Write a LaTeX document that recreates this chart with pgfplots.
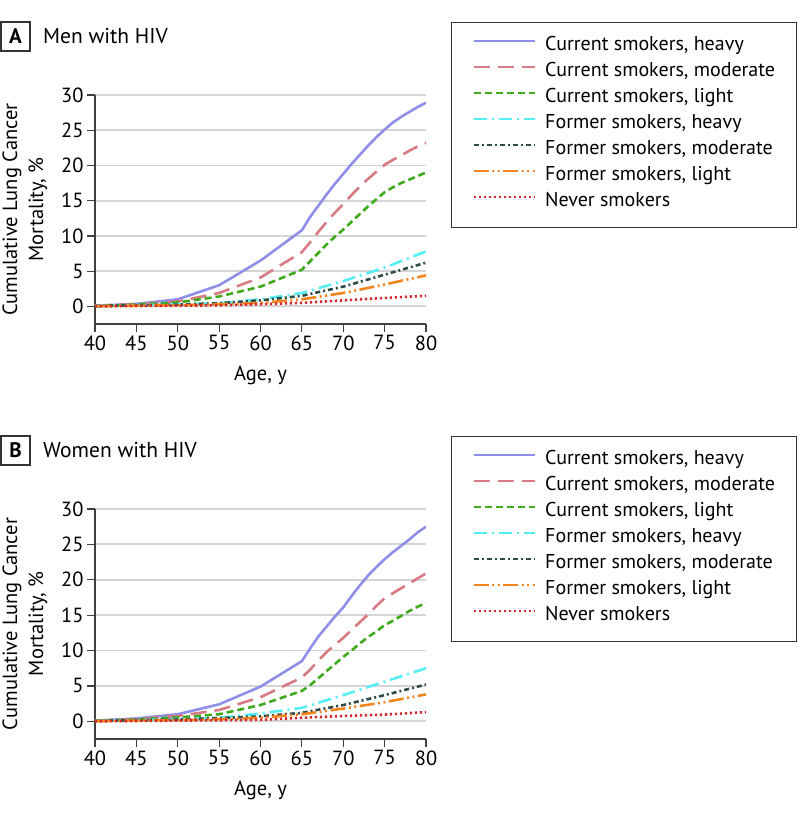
\documentclass[border=0pt]{standalone}
\usepackage{fontspec}
\setmainfont{PT Sans}
\usepackage{pgfplots}
\usepackage{pgfplotstable}
\pgfplotsset{compat=1.18}

\definecolor{cHeavy}{RGB}{143,143,234}
\definecolor{cMod}{RGB}{216,122,132}
\definecolor{cLight}{RGB}{62,170,28}
\definecolor{cFH}{RGB}{85,238,242}
\definecolor{cFM}{RGB}{45,75,75}
\definecolor{cFL}{RGB}{244,132,30}
\definecolor{cNS}{RGB}{215,38,42}

% men, current smokers (yearly after 65)
\pgfplotstableread{
age csh  csm  csl
40  0.1  0.1  0.05
45  0.35 0.3  0.25
50  1.0  0.7  0.55
55  3.0  1.9  1.4
60  6.5  4.1  2.8
65  10.8 7.7  5.2
66  12.7 9.1  6.4
67  14.3 10.6 7.6
68  15.9 12.0 8.8
69  17.4 13.3 9.9
70  18.8 14.5 10.9
71  20.2 15.8 12.0
72  21.5 17.0 13.1
73  22.8 18.1 14.2
74  24.0 19.1 15.2
75  25.1 20.1 16.2
76  26.1 20.8 16.9
77  26.9 21.4 17.5
78  27.6 22.1 18.0
79  28.3 22.7 18.5
80  28.9 23.2 19.0
}\menCur
% men, former and never smokers
\pgfplotstableread{
age fsh  fsm  fsl  ns
40  0.05 0.05 0.03 0.0
45  0.15 0.15 0.1  0.05
50  0.3  0.25 0.15 0.1
55  0.45 0.45 0.3  0.15
60  1.0  0.85 0.5  0.3
65  1.9  1.5  1.0  0.5
70  3.6  2.8  1.9  0.85
75  5.5  4.5  3.1  1.2
80  7.8  6.2  4.4  1.5
}\menFor
% women, current smokers
\pgfplotstableread{
age csh  csm  csl
40  0.1  0.1  0.05
45  0.4  0.3  0.25
50  1.0  0.75 0.55
55  2.4  1.6  1.0
60  4.9  3.4  2.3
65  8.5  6.2  4.3
66  10.3 7.3  5.1
67  12.0 8.6  6.1
68  13.4 9.8  7.1
69  14.8 10.8 8.1
70  16.1 11.8 9.1
71  17.7 12.9 10.0
72  19.2 14.0 11.0
73  20.6 15.1 11.9
74  21.8 16.3 12.7
75  22.9 17.4 13.6
76  23.9 18.1 14.2
77  24.8 18.8 14.9
78  25.7 19.5 15.6
79  26.7 20.2 16.2
80  27.5 20.9 16.7
}\womCur
% women, former and never smokers
\pgfplotstableread{
age fsh  fsm  fsl  ns
40  0.05 0.05 0.03 0.0
45  0.15 0.15 0.1  0.05
50  0.3  0.25 0.15 0.1
55  0.5  0.45 0.3  0.15
60  1.1  0.7  0.5  0.2
65  1.9  1.2  1.0  0.5
70  3.7  2.3  1.8  0.75
75  5.6  3.7  2.7  0.95
80  7.5  5.2  3.8  1.3
}\womFor

\pgfplotsset{
  panel/.style={
    scale only axis, width=331pt, height=229pt,
    xmin=40, xmax=80, ymin=-2.5, ymax=30,
    xtick={40,45,...,80}, ytick={0,5,...,30},
    axis x line*=bottom, axis y line*=left,
    axis line style={line width=1.2pt, color=black!75},
    major tick style={line width=1.2pt, color=black!75},
    tick align=outside, major tick length=8pt,
    ymajorgrids, major grid style={line width=1.8pt, color=black!17},
    /pgf/number format/assume math mode=true,
    ticklabel style={font=\fontsize{20.5}{24}\selectfont},
    label style={font=\fontsize{20.5}{26}\selectfont},
    xlabel={Age, y},
    xlabel style={at={(axis description cs:0.5,-0.225)}, anchor=center},
    ylabel={Cumulative Lung Cancer\\Mortality, \%},
    ylabel style={align=center, at={(axis description cs:-0.2115,0.5)}, anchor=center},
    legend cell align=left,
    legend style={anchor=north west, draw=black!80, line width=1.2pt,
      inner xsep=21pt, inner ysep=11.5pt, column sep=9pt, row sep=0pt,
      font=\fontsize{20}{24}\selectfont,
      nodes={inner sep=0pt, text height=16pt, text depth=10pt}},
    legend image code/.code={\draw[##1, line width=2.6pt] (0pt,6pt) -- (61pt,6pt);},
    every axis plot/.append style={line width=2.6pt},
  },
  csh/.style={color=cHeavy, solid, line join=round},
  csm/.style={color=cMod, dash pattern=on 16pt off 8pt},
  csl/.style={color=cLight, dash pattern=on 7pt off 4pt},
  fsh/.style={color=cFH, dash pattern=on 13pt off 5pt on 2pt off 5pt},
  fsm/.style={color=cFM, dash pattern=on 5pt off 3pt on 2pt off 3pt},
  fsl/.style={color=cFL, dash pattern=on 15pt off 3.5pt on 2pt off 3.5pt on 2pt off 3.5pt},
  ns/.style={color=cNS, dash pattern=on 2.2pt off 2.8pt},
}

\begin{document}
\begin{tikzpicture}
\useasboundingbox (0pt,0pt) rectangle (798pt,819pt);

% panel A
\draw[line width=1.2pt, black!80] (1pt,768pt) rectangle (30pt,797pt);
\node[font=\fontsize{21}{24}\selectfont\bfseries] at (15.5pt,782.5pt) {A};
\node[font=\fontsize{21.5}{24}\selectfont, anchor=west, inner sep=0pt] at (43pt,782.5pt) {Men with HIV};

\begin{axis}[panel, at={(95pt,495pt)}, anchor=south west,
  legend style={at={(axis description cs:1.0755,1.3188)}}]
\addplot[csh] table[x=age, y=csh] {\menCur};
\addplot[csm] table[x=age, y=csm] {\menCur};
\addplot[csl] table[x=age, y=csl] {\menCur};
\addplot[fsh] table[x=age, y=fsh] {\menFor};
\addplot[fsm] table[x=age, y=fsm] {\menFor};
\addplot[fsl] table[x=age, y=fsl] {\menFor};
\addplot[ns] table[x=age, y=ns] {\menFor};
\legend{{Current smokers, heavy}, {Current smokers, moderate}, {Current smokers, light},
  {Former smokers, heavy}, {Former smokers, moderate}, {Former smokers, light}, {Never smokers}}
\end{axis}

% panel B
\draw[line width=1.2pt, black!80] (1pt,354pt) rectangle (30pt,383pt);
\node[font=\fontsize{21}{24}\selectfont\bfseries] at (15.5pt,368.5pt) {B};
\node[font=\fontsize{21.5}{24}\selectfont, anchor=west, inner sep=0pt] at (43pt,368.5pt) {Women with HIV};

\begin{axis}[panel, at={(95pt,80pt)}, anchor=south west, height=230pt,
  legend style={at={(axis description cs:1.0755,1.317)}}]
\addplot[csh] table[x=age, y=csh] {\womCur};
\addplot[csm] table[x=age, y=csm] {\womCur};
\addplot[csl] table[x=age, y=csl] {\womCur};
\addplot[fsh] table[x=age, y=fsh] {\womFor};
\addplot[fsm] table[x=age, y=fsm] {\womFor};
\addplot[fsl] table[x=age, y=fsl] {\womFor};
\addplot[ns] table[x=age, y=ns] {\womFor};
\legend{{Current smokers, heavy}, {Current smokers, moderate}, {Current smokers, light},
  {Former smokers, heavy}, {Former smokers, moderate}, {Former smokers, light}, {Never smokers}}
\end{axis}
\end{tikzpicture}
\end{document}
